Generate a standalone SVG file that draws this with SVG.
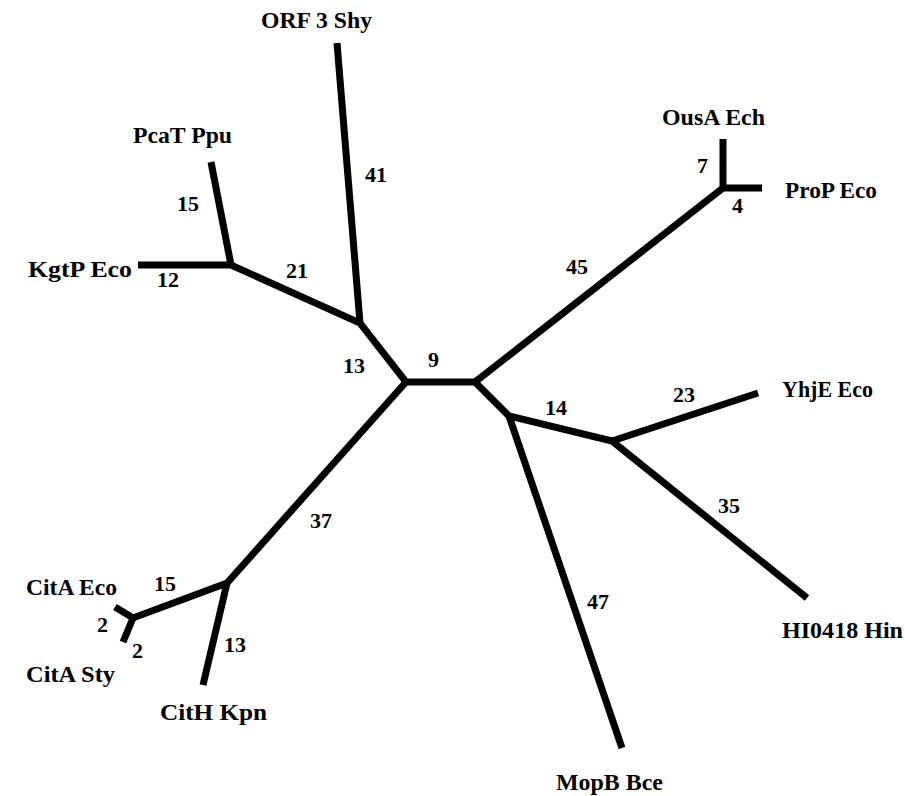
<svg xmlns="http://www.w3.org/2000/svg" width="905" height="796" viewBox="0 0 905 796">
  <style>
    .br { fill: none; stroke: #000; stroke-width: 7; stroke-linejoin: miter; stroke-linecap: butt; }
    .lbl { font-family: "Liberation Serif", "DejaVu Serif", serif; font-weight: bold; font-size: 23px; fill: #000; }
    .num { font-family: "Liberation Serif", "DejaVu Serif", serif; font-weight: bold; font-size: 22px; fill: #000; }
  </style>
  <rect width="905" height="796" fill="#fff"/>

  <!-- tree branches -->
  <g id="connectors">
    <polyline class="br" points="138,265 231,265 360,323 406,382 475,382 509,416 612,441 807,598"/>
    <polyline class="br" points="211,162 231,265"/>
    <polyline class="br" points="337,43 360,323"/>
    <polyline class="br" points="406,382 227,583 133,618 115,607"/>
    <polyline class="br" points="133,618 123,642"/>
    <polyline class="br" points="227,583 203,685"/>
    <polyline class="br" points="475,382 723,188 762,188"/>
    <polyline class="br" points="723,139 723,188"/>
    <polyline class="br" points="509,416 622,748"/>
    <polyline class="br" points="612,441 758,393"/>
  </g>

  <!-- branch lengths -->
  <g id="branch-lengths">
    <text class="num" x="365" y="182">41</text>
    <text class="num" x="177" y="211">15</text>
    <text class="num" x="286" y="278">21</text>
    <text class="num" x="157" y="287">12</text>
    <text class="num" x="343" y="373">13</text>
    <text class="num" x="428" y="367">9</text>
    <text class="num" x="566" y="274">45</text>
    <text class="num" x="697" y="173">7</text>
    <text class="num" x="732" y="213">4</text>
    <text class="num" x="545" y="415">14</text>
    <text class="num" x="673" y="402">23</text>
    <text class="num" x="718" y="513">35</text>
    <text class="num" x="587" y="609">47</text>
    <text class="num" x="310" y="528">37</text>
    <text class="num" x="154" y="591">15</text>
    <text class="num" x="97" y="632">2</text>
    <text class="num" x="132" y="658">2</text>
    <text class="num" x="224" y="652">13</text>
  </g>

  <!-- leaf labels -->
  <g id="orf3-shy"><text class="lbl" x="261" y="28" textLength="111" lengthAdjust="spacingAndGlyphs">ORF 3 Shy</text></g>
  <g id="pcat-ppu"><text class="lbl" x="133" y="143" textLength="99" lengthAdjust="spacingAndGlyphs">PcaT Ppu</text></g>
  <g id="kgtp-eco"><text class="lbl" x="28" y="277" textLength="104" lengthAdjust="spacingAndGlyphs">KgtP Eco</text></g>
  <g id="ousa-ech"><text class="lbl" x="662" y="125" textLength="103" lengthAdjust="spacingAndGlyphs">OusA Ech</text></g>
  <g id="prop-eco"><text class="lbl" x="785" y="198" textLength="92" lengthAdjust="spacingAndGlyphs">ProP Eco</text></g>
  <g id="yhje-eco"><text class="lbl" x="782" y="397" textLength="91" lengthAdjust="spacingAndGlyphs">YhjE Eco</text></g>
  <g id="hi0418-hin"><text class="lbl" x="782" y="638" textLength="121" lengthAdjust="spacingAndGlyphs">HI0418 Hin</text></g>
  <g id="mopb-bce"><text class="lbl" x="556" y="790" textLength="107" lengthAdjust="spacingAndGlyphs">MopB Bce</text></g>
  <g id="cith-kpn"><text class="lbl" x="160" y="720" textLength="107" lengthAdjust="spacingAndGlyphs">CitH Kpn</text></g>
  <g id="cita-sty"><text class="lbl" x="26" y="682" textLength="89" lengthAdjust="spacingAndGlyphs">CitA Sty</text></g>
  <g id="cita-eco"><text class="lbl" x="26" y="595" textLength="91" lengthAdjust="spacingAndGlyphs">CitA Eco</text></g>
</svg>
